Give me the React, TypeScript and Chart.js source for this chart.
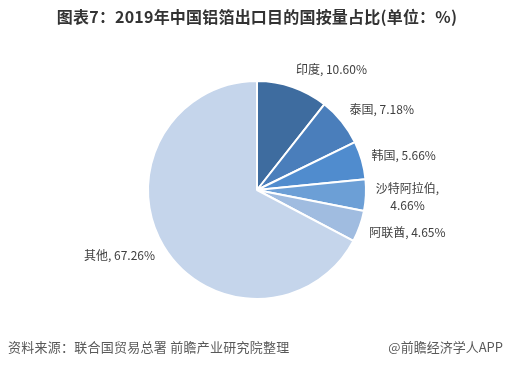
import React, { useEffect, useRef } from "react";
import { Chart, registerables } from "chart.js";

Chart.register(...registerables);

const TITLE = "图表7：2019年中国铝箔出口目的国按量占比(单位：%)";
const SOURCE = "资料来源：联合国贸易总署 前瞻产业研究院整理";
const CREDIT = "@前瞻经济学人APP";

const categories = ["印度", "泰国", "韩国", "沙特阿拉伯", "阿联酋", "其他"];
const shares = [10.6, 7.18, 5.66, 4.66, 4.65, 67.26];
const sliceColors = ["#3E6C9F", "#4A7EBB", "#508CCE", "#6C9FD6", "#A0BCE0", "#C5D5EB"];

const FONT = '"Noto Sans CJK SC", "Microsoft YaHei", sans-serif';

const overlayPlugin = {
  id: "overlay",
  afterDraw(chart: any) {
    const ctx = chart.ctx as CanvasRenderingContext2D;
    const W = chart.width;
    ctx.save();
    // title
    ctx.fillStyle = "#333333";
    ctx.font = `bold 16px ${FONT}`;
    ctx.textAlign = "center";
    ctx.textBaseline = "middle";
    (ctx as any).letterSpacing = "0.2px";
    ctx.fillText(TITLE, W / 2 + 1, 17);

    // footer
    ctx.fillStyle = "#595959";
    ctx.font = `13px ${FONT}`;
    ctx.textAlign = "left";
    (ctx as any).letterSpacing = "0.25px";
    ctx.fillText(SOURCE, 8, 347);
    (ctx as any).letterSpacing = "0px";
    ctx.textAlign = "right";
    ctx.fillText(CREDIT, 503, 347);

    // data labels
    const meta = chart.getDatasetMeta(0);
    ctx.font = `12px ${FONT}`;
    ctx.fillStyle = "#404040";
    const lh = 17;
    meta.data.forEach((arc: any, i: number) => {
      const { x, y, startAngle, endAngle, outerRadius } = arc.getProps(
        ["x", "y", "startAngle", "endAngle", "outerRadius"],
        true
      );
      const mid = (startAngle + endAngle) / 2;
      const r = outerRadius + 10;
      const ax = x + Math.cos(mid) * r;
      const ay = y + Math.sin(mid) * r;
      const full = `${categories[i]}, ${shares[i].toFixed(2)}%`;
      let lines = [full];
      if (ctx.measureText(full).width > 80) {
        lines = [`${categories[i]},`, `${shares[i].toFixed(2)}%`];
      }
      const w = Math.max(...lines.map((l) => ctx.measureText(l).width));
      const h = lines.length * lh;
      const sinT = Math.cos(mid); // horizontal component
      const cosT = -Math.sin(mid); // upward component
      const cx = ax + (sinT >= 0 ? w / 2 : -w / 2);
      const cy = ay - cosT * (h / 2);
      ctx.textAlign = "center";
      ctx.textBaseline = "middle";
      lines.forEach((l, k) => {
        ctx.fillText(l, cx, cy - h / 2 + lh / 2 + k * lh);
      });
    });
    ctx.restore();
  },
};

export default function App() {
  const ref = useRef<HTMLCanvasElement>(null);
  useEffect(() => {
    document.body.style.margin = "0";
    const chart = new Chart(ref.current!, {
      type: "pie",
      data: {
        labels: categories,
        datasets: [
          {
            data: shares,
            backgroundColor: sliceColors,
            borderColor: "#ffffff",
            borderWidth: 2,
          },
        ],
      },
      options: {
        responsive: false,
        animation: false,
        devicePixelRatio: 1,
        layout: { padding: { top: 80, bottom: 77, left: 2, right: 0 } },
        plugins: {
          legend: { display: false },
          title: { display: false },
          tooltip: { enabled: false },
        },
      },
      plugins: [overlayPlugin],
    });
    return () => chart.destroy();
  }, []);
  return (
    <div style={{ width: 512, height: 377, background: "#ffffff" }}>
      <canvas ref={ref} width={512} height={377} />
    </div>
  );
}
